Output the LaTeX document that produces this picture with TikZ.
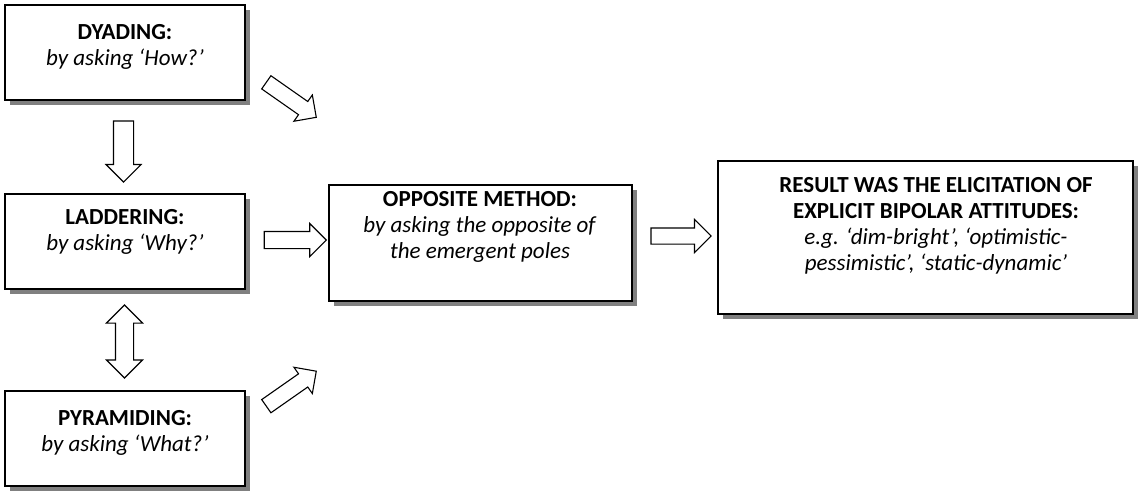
\documentclass[tikz,border=0pt]{standalone}
\usepackage{fontspec}
\setmainfont{Carlito}
\usetikzlibrary{shapes.arrows,shadows}
\begin{document}
\begin{tikzpicture}[x=1pt,y=-1pt,
  box/.style={draw=black, line width=2pt, fill=white, rectangle, inner sep=0pt,
    general shadow={fill=black!50, shadow xshift=5pt, shadow yshift=-5pt}},
  boxtext/.style={align=center, inner sep=0pt, font=\fontsize{23}{26}\selectfont},
  blockarrow/.style={single arrow, draw=black, fill=white, line width=1.1pt, inner xsep=0pt},
  dblarrow/.style={double arrow, draw=black, fill=white, line width=1.1pt, inner xsep=0pt}
]
\useasboundingbox (0,0) rectangle (1140,490);

\node[box, minimum width=240pt, minimum height=95pt] (b1) at (125,52.5) {};
\node[box, minimum width=240pt, minimum height=95pt] (b2) at (125,241.5) {};
\node[box, minimum width=240pt, minimum height=95pt] (b3) at (125,438.5) {};
\node[box, minimum width=303pt, minimum height=116pt] (b4) at (480.5,243) {};
\node[box, minimum width=415pt, minimum height=153pt] (b5) at (925,237.5) {};

\node[boxtext] (t1) at (125,47) {\textbf{DYADING:}\\\textit{by asking ‘How?’}};
\node[boxtext] (t2) at (125,232) {\textbf{LADDERING:}\\\textit{by asking ‘Why?’}};
\node[boxtext] (t3) at (125,433) {\textbf{PYRAMIDING:}\\\textit{by asking ‘What?’}};
\node[boxtext] (t4) at (480,227) {\textbf{OPPOSITE METHOD:}\\\textit{by asking the opposite of}\\\textit{the emergent poles}};
\node[boxtext] (t5) at (936,226) {\textbf{RESULT WAS THE ELICITATION OF}\\\textbf{EXPLICIT BIPOLAR ATTITUDES:}\\\textit{e.g. ‘dim-bright’, ‘optimistic-}\\\textit{pessimistic’, ‘static-dynamic’}};

\node[blockarrow, rotate=-90, minimum height=61pt, inner ysep=9.5pt, single arrow head extend=7.5pt] (a12) at (123.5,146.5) {};
\node[dblarrow, rotate=90, minimum height=73pt, inner ysep=8.5pt, double arrow head extend=9pt] (a23) at (124.5,341.5) {};
\node[blockarrow, minimum height=62pt, inner ysep=8pt, single arrow head extend=8pt] (a24) at (291,240) {};
\node[blockarrow, minimum height=60pt, inner ysep=7.5pt, single arrow head extend=8.5pt] (a45) at (677,236) {};
\node[blockarrow, rotate=-35, minimum height=61pt, inner ysep=7.5pt, single arrow head extend=8pt] (a14) at (288,97.5) {};
\node[blockarrow, rotate=35, minimum height=61pt, inner ysep=7.5pt, single arrow head extend=8pt] (a34) at (288,391) {};
\end{tikzpicture}
\end{document}
